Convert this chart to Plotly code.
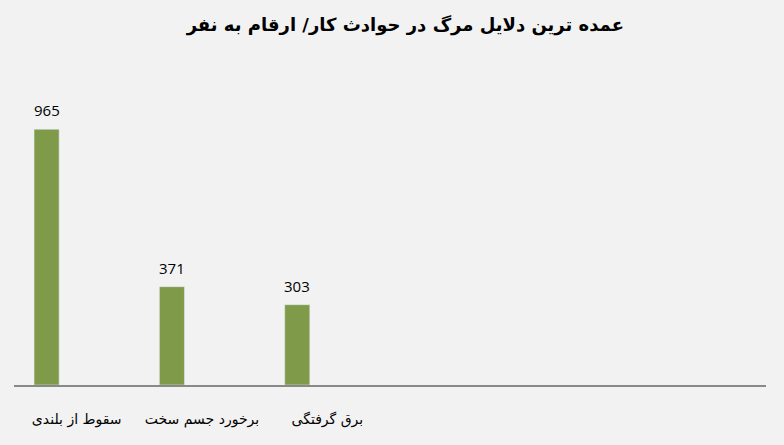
import plotly.graph_objects as go

categories = ["سقوط از بلندی", "برخورد جسم سخت", "برق گرفتگی", " ", "  ", "   "]
values = [965, 371, 303, None, None, None]
title_text = "عمده ترین دلایل مرگ در حوادث کار/ ارقام به نفر"

fig = go.Figure(go.Bar(
    x=categories, y=values, width=0.2, offset=-0.34,
    marker_color="#7f9a48", hoverinfo="skip",
))

for i, v in enumerate(values):
    if v is not None:
        fig.add_annotation(x=i - 0.24, y=v, text=str(v), showarrow=False,
                           yanchor="bottom", yshift=7,
                           font=dict(size=15, family="Open Sans", color="#000000"))

fig.update_layout(
    width=784, height=445,
    paper_bgcolor="#f2f2f2", plot_bgcolor="#f2f2f2",
    margin=dict(l=14, r=18, t=67, b=60),
    title=dict(text="<b>" + title_text + "</b>", x=0.517, xanchor="center", y=0.945, yanchor="middle",
               font=dict(size=18, family="DejaVu Sans", color="#000000")),
    showlegend=False,
)
fig.update_xaxes(
    type="category", range=[-0.5, 5.5],
    showline=True, linecolor="#898989", linewidth=1.5,
    showgrid=False, ticks="", ticklabelstandoff=20,
    tickfont=dict(size=14, family="DejaVu Sans", color="#000000"),
)
fig.update_yaxes(range=[0, 1200], visible=False, showgrid=False, zeroline=False)

fig.write_html("out.html", config={"displayModeBar": False},
               post_script="document.body.style.margin='0';")
